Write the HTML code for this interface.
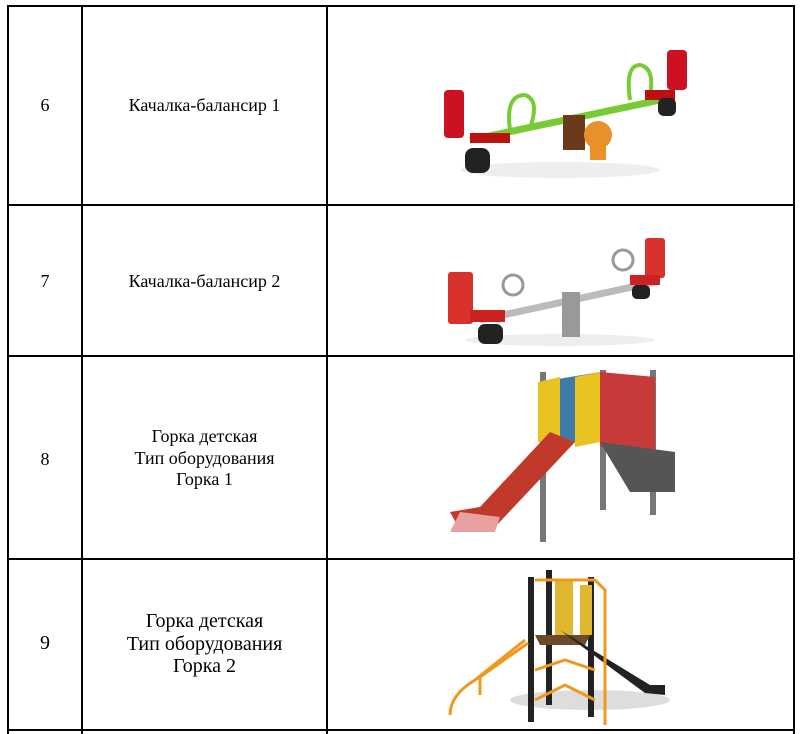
<!DOCTYPE html><html><head><meta charset="utf-8"><style>
body{margin:0;background:#fff;width:803px;height:734px;overflow:hidden;position:relative;font-family:"Liberation Serif",serif;color:#000}
.h{position:absolute;height:2px;background:#000;left:7px;width:788px}
.v{position:absolute;width:2px;background:#000;top:5px;height:729px}
.t{position:absolute;text-align:center;font-size:18px;line-height:22px}
svg{position:absolute}
</style></head><body>
<div class="h" style="top:5px"></div><div class="h" style="top:204px"></div><div class="h" style="top:355px"></div><div class="h" style="top:558px"></div><div class="h" style="top:729px"></div>
<div class="v" style="left:7px"></div><div class="v" style="left:81px"></div><div class="v" style="left:326px"></div><div class="v" style="left:793px"></div>
<div class="t" style="left:9px;width:72px;top:94px">6</div>
<div class="t" style="left:83px;width:243px;top:94px">Качалка-балансир 1</div>
<div class="t" style="left:9px;width:72px;top:270px">7</div>
<div class="t" style="left:83px;width:243px;top:270px">Качалка-балансир 2</div>
<div class="t" style="left:9px;width:72px;top:448px">8</div>
<div class="t" style="left:83px;width:243px;top:426px;line-height:21.5px">Горка детская<br>Тип оборудования<br>Горка 1</div>
<div class="t" style="left:9px;width:72px;top:632px;font-size:20px">9</div>
<div class="t" style="left:83px;width:243px;top:610px;font-size:20px;line-height:22.5px">Горка детская<br>Тип оборудования<br>Горка 2</div>

<svg style="left:430px;top:40px" width="260" height="150">
<ellipse cx="130" cy="130" rx="100" ry="8" fill="#eee"/>
<line x1="40" y1="100" x2="230" y2="60" stroke="#7c3" stroke-width="7"/>
<path d="M20 50 L30 95" stroke="#7c3" stroke-width="4" fill="none"/>
<rect x="14" y="50" width="20" height="48" rx="4" fill="#c12"/>
<rect x="40" y="93" width="40" height="10" fill="#b11"/>
<rect x="35" y="108" width="25" height="25" rx="8" fill="#222"/>
<path d="M80 90 Q75 55 95 55 Q110 60 100 88" stroke="#7c3" stroke-width="4" fill="none"/>
<path d="M200 60 Q195 25 210 25 Q225 28 220 55" stroke="#7c3" stroke-width="4" fill="none"/>
<rect x="237" y="10" width="20" height="40" rx="4" fill="#c12"/>
<rect x="215" y="50" width="30" height="10" fill="#b11"/>
<rect x="228" y="58" width="18" height="18" rx="6" fill="#222"/>
<rect x="133" y="75" width="22" height="35" fill="#6b3a1a"/>
<circle cx="168" cy="95" r="14" fill="#e8902a"/>
<rect x="160" y="105" width="16" height="15" fill="#e8902a"/>
</svg>

<svg style="left:440px;top:230px" width="240" height="120">
<ellipse cx="120" cy="110" rx="95" ry="6" fill="#eee"/>
<line x1="40" y1="90" x2="215" y2="52" stroke="#bbb" stroke-width="7"/>
<rect x="8" y="42" width="25" height="52" rx="3" fill="#d9312b"/>
<rect x="30" y="80" width="35" height="12" fill="#c22"/>
<rect x="38" y="94" width="25" height="20" rx="7" fill="#222"/>
<circle cx="73" cy="55" r="10" stroke="#999" stroke-width="3" fill="none"/>
<circle cx="183" cy="30" r="10" stroke="#999" stroke-width="3" fill="none"/>
<rect x="205" y="8" width="20" height="40" rx="3" fill="#d9312b"/>
<rect x="190" y="45" width="30" height="10" fill="#c22"/>
<rect x="192" y="55" width="18" height="14" rx="5" fill="#222"/>
<rect x="122" y="62" width="18" height="45" fill="#999"/>
</svg>

<svg style="left:440px;top:362px" width="250" height="192">
<rect x="100" y="10" width="6" height="170" fill="#777"/><rect x="160" y="8" width="6" height="140" fill="#777"/><rect x="210" y="8" width="6" height="145" fill="#777"/>
<path d="M100 20 L160 10 L160 80 L100 80Z" fill="#3f7aa8"/>
<path d="M98 20 L120 15 L120 80 L98 80Z" fill="#e8c21e"/>
<path d="M135 15 L160 10 L160 80 L135 85Z" fill="#e8c21e"/>
<path d="M160 10 L215 15 L215 90 L160 85Z" fill="#c73a3a"/>
<path d="M160 80 L235 90 L235 130 L190 130Z" fill="#555"/>
<path d="M110 70 L135 80 L55 165 L20 168 L10 150 L40 145Z" fill="#c0392b"/>
<path d="M20 150 L10 170 L55 170 L60 155Z" fill="#e8a0a0"/>
</svg>

<svg style="left:440px;top:565px" width="240" height="165">
<ellipse cx="150" cy="135" rx="80" ry="10" fill="#ddd"/>
<rect x="88" y="12" width="6" height="145" fill="#222"/><rect x="106" y="5" width="6" height="135" fill="#222"/><rect x="148" y="12" width="6" height="140" fill="#222"/>
<rect x="115" y="15" width="18" height="55" fill="#e0b830"/><rect x="140" y="20" width="12" height="50" fill="#e0b830"/>
<path d="M95 70 L150 70 L145 80 L100 80Z" fill="#6b4a2a"/>
<path d="M120 65 L210 120 L225 120 L225 130 L205 128 L140 80Z" fill="#222"/>
<path d="M10 150 Q10 130 35 115 L85 75" stroke="#f0981a" stroke-width="3" fill="none"/>
<path d="M40 130 L40 112 L88 78" stroke="#f0981a" stroke-width="3" fill="none"/>
<path d="M95 15 L155 15 L165 25 L165 160" stroke="#f0981a" stroke-width="3" fill="none"/>
<path d="M95 105 L125 95 L155 105 M95 135 L125 120 L155 135" stroke="#f0981a" stroke-width="3" fill="none"/>
</svg>
</body></html>
